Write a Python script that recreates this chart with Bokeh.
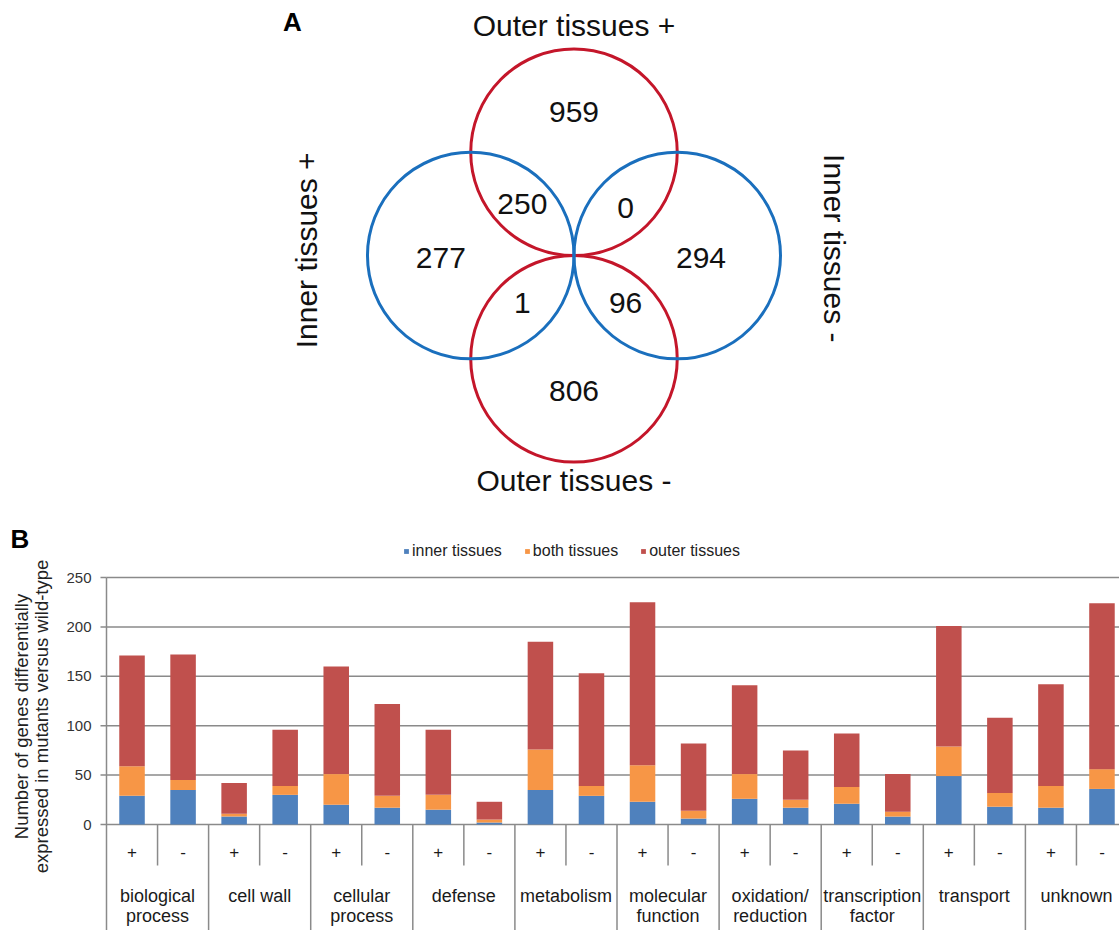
import math
from bokeh.plotting import figure
from bokeh.models import Range1d, ColumnDataSource, Legend, LegendItem
from bokeh.layouts import column
from bokeh.core.properties import value
from bokeh.embed import file_html
from bokeh.resources import INLINE

# ---------------- Panel A data (Venn diagram) ----------------
set_labels = ["Outer tissues +", "Inner tissues +", "Inner tissues -", "Outer tissues -"]
region_names = ["outer+ only", "outer+ & inner+", "outer+ & inner-", "inner+ only",
                "inner- only", "outer- & inner+", "outer- & inner-", "outer- only"]
region_counts = [959, 250, 0, 277, 294, 1, 96, 806]

# ---------------- Panel B data (stacked bars) ----------------
group_line1 = ["biological", "cell wall", "cellular", "defense", "metabolism",
               "molecular", "oxidation/", "transcription", "transport", "unknown"]
group_line2 = ["process", "", "process", "", "", "function", "reduction", "factor", "", ""]
signs = ["+", "-"]
series_names = ["inner tissues", "both tissues", "outer tissues"]
inner = [29, 35, 8, 30, 20, 17, 15, 2, 35, 29, 23, 6, 26, 17, 21, 8, 49, 18, 17, 36]
both = [30, 10, 3, 9, 31, 12, 15, 3, 41, 10, 37, 8, 25, 8, 17, 5, 30, 14, 22, 20]
outer = [112, 127, 31, 57, 109, 93, 66, 18, 109, 114, 165, 68, 90, 50, 54, 38, 122, 76, 103, 168]
y_ticks = [0, 50, 100, 150, 200, 250]
y_title = ["Number of genes differentially", "expressed in mutants versus wild-type"]

FONT = "Liberation Sans"
RED = "#c4162a"
BLUE = "#1a6fbd"
BAR_COLORS = ["#4f81bd", "#f79646", "#c0504d"]
GRAY = "#8a8a8a"
TXT = "#1a1a1a"
W = 1119

# ================= Panel A =================
pa = figure(width=W, height=515, x_range=Range1d(-5.554, 5.283), y_range=Range1d(-2.518, 2.470),
            output_backend="svg", toolbar_location=None, x_axis_location=None, y_axis_location=None,
            min_border=0, min_border_left=0, min_border_right=0, min_border_top=0, min_border_bottom=0)
pa.grid.visible = False
pa.outline_line_color = None

# Venn layout: four unit circles touching the common centre
cx = [0, -1, 1, 0]
cy = [1, 0, 0, -1]
kind = ["outer", "inner", "inner", "outer"]
red_idx = [i for i, k in enumerate(kind) if k == "outer"]
blue_idx = [i for i, k in enumerate(kind) if k == "inner"]
pa.circle(x=[cx[i] for i in red_idx], y=[cy[i] for i in red_idx], radius=1,
          fill_color=None, line_color=RED, line_width=3)
pa.circle(x=[cx[i] for i in blue_idx], y=[cy[i] for i in blue_idx], radius=1,
          fill_color=None, line_color=BLUE, line_width=3)

# region anchors inside the Venn layout
rx = [0.0, -0.50, 0.50, -1.29, 1.23, -0.50, 0.50, 0.0]
ry = [1.39, 0.50, 0.46, -0.02, -0.02, -0.46, -0.46, -1.31]
pa.text(x=rx, y=ry, text=[str(c) for c in region_counts], text_align="center", text_baseline="middle",
        text_font=value(FONT), text_font_size="30px", text_color="#111111")

# set labels
pa.text(x=[0, 0], y=[2.23, -2.18], text=[set_labels[0], set_labels[3]], text_align="center",
        text_baseline="middle", text_font=value(FONT), text_font_size="30px", text_color="#111111")
pa.text(x=[-2.59], y=[0.05], text=[set_labels[1]], angle=math.pi / 2, text_align="center",
        text_baseline="middle", text_font=value(FONT), text_font_size="30px", text_color="#111111")
pa.text(x=[2.52], y=[0.07], text=[set_labels[2]], angle=-math.pi / 2, text_align="center",
        text_baseline="middle", text_font=value(FONT), text_font_size="30px", text_color="#111111")
pa.text(x=[-2.726], y=[2.257], text=["A"], text_align="center", text_baseline="middle",
        text_font=value(FONT), text_font_size="26px", text_font_style="bold", text_color="#000000")

# ================= Panel B =================
n = len(inner)
xs = [i + 0.5 for i in range(n)]
src = ColumnDataSource(dict(x=xs, inner=inner, both=both, outer=outer))

PXX = 51.05   # pixels per category slot
PXY = 0.988   # pixels per gene count
X0, X1 = -106 / PXX, 1013 / PXX
Y0, Y1 = -106 / PXY, 309 / PXY

pb = figure(width=W, height=415, x_range=Range1d(X0, X1), y_range=Range1d(Y0, Y1),
            output_backend="svg", toolbar_location=None, x_axis_location=None, y_axis_location=None,
            min_border=0, min_border_left=0, min_border_right=0, min_border_top=0, min_border_bottom=0)
pb.outline_line_color = None
pb.grid.visible = False

ymax = y_ticks[-1]
# gridlines, value axis line and ticks
pb.segment(x0=[0] * len(y_ticks), y0=y_ticks, x1=[X1] * len(y_ticks), y1=y_ticks,
           line_color=GRAY, line_width=1.5)
pb.segment(x0=[0], y0=[ymax], x1=[0], y1=[Y0], line_color=GRAY, line_width=1.5)
pb.segment(x0=[-6 / PXX] * len(y_ticks), y0=y_ticks, x1=[0] * len(y_ticks), y1=y_ticks,
           line_color=GRAY, line_width=1.5)
pb.text(x=[-15 / PXX] * len(y_ticks), y=y_ticks, text=[str(t) for t in y_ticks], text_align="right",
        text_baseline="middle", text_font=value(FONT), text_font_size="15px", text_color="#333333")

rs = pb.vbar_stack(["inner", "both", "outer"], x="x", width=0.5, color=BAR_COLORS, source=src,
                   line_color=None)

leg = Legend(items=[LegendItem(label=series_names[i], renderers=[rs[i]]) for i in range(3)],
             orientation="horizontal", location=(403, 370), glyph_width=6, glyph_height=6,
             label_standoff=3, spacing=22, padding=0, margin=0, border_line_color=None,
             background_fill_alpha=0, label_text_font=FONT, label_text_font_size="16px",
             label_text_color="#222222")
pb.add_layout(leg, "center")

# category table below the bars
n_groups = len(group_line1)
per = len(signs)
short_x = [g * per + 1 for g in range(n_groups)]
long_x = [g * per for g in range(1, n_groups + 1)]
pb.segment(x0=short_x, y0=[0] * len(short_x), x1=short_x, y1=[-41 / PXY] * len(short_x),
           line_color=GRAY, line_width=1.5)
pb.segment(x0=long_x, y0=[0] * len(long_x), x1=long_x, y1=[Y0] * len(long_x),
           line_color=GRAY, line_width=1.5)

pb.text(x=xs, y=[-27 / PXY] * n, text=[signs[i % per] for i in range(n)], text_align="center",
        text_baseline="middle", text_font=value(FONT), text_font_size="17px", text_color=TXT)
gx = [g * per + per / 2 for g in range(n_groups)]
pb.text(x=gx, y=[-71 / PXY] * n_groups, text=group_line1, text_align="center", text_baseline="middle",
        text_font=value(FONT), text_font_size="18px", text_color=TXT)
pb.text(x=gx, y=[-91 / PXY] * n_groups, text=group_line2, text_align="center", text_baseline="middle",
        text_font=value(FONT), text_font_size="18px", text_color=TXT)

# value-axis title (two lines) and panel letter
pb.text(x=[-85.3 / PXX, -65.3 / PXX], y=[108 / PXY] * 2, text=y_title, angle=math.pi / 2,
        text_align="center", text_baseline="middle", text_font=value(FONT), text_font_size="18.5px",
        text_color="#222222")
pb.text(x=[-96 / PXX], y=[286 / PXY], text=["B"], text_align="left", text_baseline="middle",
        text_font=value(FONT), text_font_size="26px", text_font_style="bold", text_color="#000000")

layout = column(pa, pb)
open("out.html", "w").write(file_html(layout, INLINE))
